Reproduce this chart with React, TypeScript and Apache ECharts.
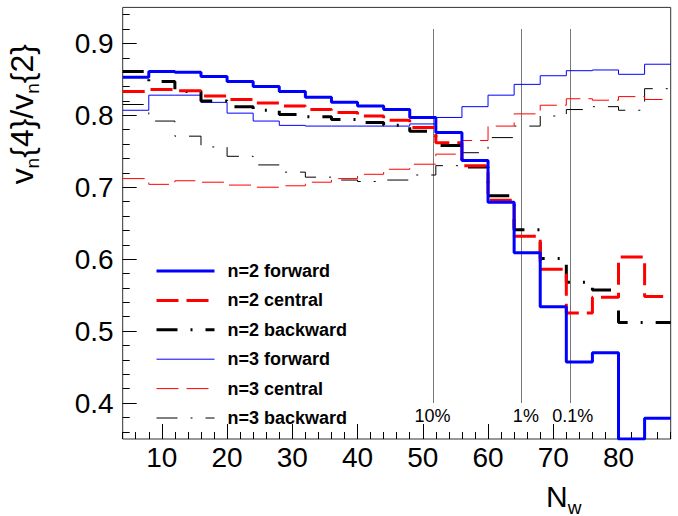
import React, { useEffect, useRef } from "react";
import * as echarts from "echarts";

// Bin low edges of N_w (bin width 4), plus the upper edge of the last bin
const binLowEdges = [4, 8, 12, 16, 20, 24, 28, 32, 36, 40, 44, 48, 52, 56, 60, 64, 68, 72, 76, 80, 84];
const binUpperEdge = 88;

const n2Forward = [0.853, 0.861, 0.86, 0.854, 0.847, 0.84, 0.833, 0.825, 0.818, 0.813, 0.808, 0.797, 0.776, 0.737, 0.679, 0.609, 0.534, 0.457, 0.47, 0.35, 0.379];
const n2Central = [0.833, 0.836, 0.834, 0.827, 0.822, 0.817, 0.813, 0.808, 0.804, 0.799, 0.793, 0.783, 0.762, 0.73, 0.682, 0.632, 0.586, 0.525, 0.547, 0.603, 0.548];
const n2Backward = [0.861, 0.847, 0.833, 0.82, 0.812, 0.807, 0.801, 0.798, 0.794, 0.79, 0.786, 0.778, 0.758, 0.728, 0.688, 0.641, 0.601, 0.568, 0.557, 0.512, 0.512];
const n3Forward = [0.807, 0.828, 0.828, 0.818, 0.803, 0.792, 0.786, 0.785, 0.785, 0.785, 0.785, 0.788, 0.797, 0.812, 0.828, 0.843, 0.855, 0.862, 0.863, 0.857, 0.871];
const n3Central = [0.712, 0.704, 0.709, 0.707, 0.703, 0.7, 0.702, 0.707, 0.712, 0.718, 0.725, 0.732, 0.746, 0.765, 0.785, 0.802, 0.814, 0.823, 0.821, 0.826, 0.822];
const n3Backward = [0.815, 0.792, 0.771, 0.756, 0.743, 0.731, 0.721, 0.714, 0.71, 0.708, 0.71, 0.717, 0.73, 0.748, 0.769, 0.785, 0.799, 0.808, 0.812, 0.807, 0.837];

const seriesNames = ["n=2 forward", "n=2 central", "n=2 backward", "n=3 forward", "n=3 central", "n=3 backward"];

// Centrality markers
const centralityLabels = ["10%", "1%", "0.1%"];
const centralityNw = [51.6, 65.1, 72.6];
const centralityLabelNw = [51.5, 65.8, 73.0];
const centralityLineRange = [0.4, 0.92];
const centralityLabelY = 0.382;

// Axis ticks
const xMin = 4;
const xMax = 88;
const yMin = 0.35;
const yMax = 0.95;
const xMajorTicks = [10, 20, 30, 40, 50, 60, 70, 80];
const yMajorTicks = [0.4, 0.5, 0.6, 0.7, 0.8, 0.9];

const FONT = "Liberation Sans, Arial, Helvetica, sans-serif";

function toSteps(vals: number[]) {
  const pts = binLowEdges.map((e, i) => [e, vals[i]]);
  pts.push([binUpperEdge, vals[vals.length - 1]]);
  return pts;
}

export default function App() {
  const ref = useRef<HTMLDivElement>(null);

  useEffect(() => {
    if (!ref.current) return;
    const chart = echarts.init(ref.current, undefined, { renderer: "svg" });

    const xMinor: number[] = [];
    for (let v = xMin; v <= xMax + 1e-9; v += 2) xMinor.push(v);
    const yMinor: number[] = [];
    for (let k = 18; k <= 47; k++) yMinor.push(Math.round(k * 2) / 100);

    const dashDot = [21, 13, 2, 13];
    const dashed = [22, 8];
    const styles = [
      { color: "#0000ff", width: 3, type: "solid" as any },
      { color: "#ff0000", width: 3, type: dashed },
      { color: "#000000", width: 3, type: dashDot },
      { color: "#0000ff", width: 1, type: "solid" as any },
      { color: "#ff0000", width: 1, type: dashed },
      { color: "#000000", width: 1, type: dashDot },
    ];
    const datasets = [n2Forward, n2Central, n2Backward, n3Forward, n3Central, n3Backward];

    const lineSeries = datasets.map((vals, i) => ({
      name: seriesNames[i],
      type: "line",
      step: "end",
      data: toSteps(vals),
      symbol: "none",
      showSymbol: false,
      clip: true,
      color: styles[i].color,
      lineStyle: { color: styles[i].color, width: styles[i].width, type: styles[i].type },
      z: 10 - i,
    }));

    const markerSeries = {
      type: "scatter",
      data: centralityLabels.map((name, i) => ({ name, value: [centralityLabelNw[i], centralityLabelY] })),
      symbolSize: 0,
      itemStyle: { color: "#000", opacity: 1 },
      silent: true,
      label: {
        show: true,
        position: "inside",
        formatter: (p: any) => p.name,
        fontSize: 18,
        fontFamily: FONT,
        color: "#000",
        opacity: 1,
      },
      markLine: {
        silent: true,
        symbol: ["none", "none"],
        label: { show: false },
        lineStyle: { color: "#777", width: 1, type: "solid", opacity: 1 },
        data: centralityNw.map((nw) => [
          { coord: [nw, centralityLineRange[0]] },
          { coord: [nw, centralityLineRange[1]] },
        ]),
      },
      z: 3,
    };

    chart.setOption({
      animation: false,
      grid: {
        left: 122.7,
        right: 7.3,
        top: 7.4,
        bottom: 77,
        show: true,
        borderColor: "#333",
        borderWidth: 1,
        backgroundColor: "transparent",
      },
      legend: {
        data: seriesNames,
        orient: "vertical",
        left: 150,
        top: 257,
        itemWidth: 58,
        itemHeight: 18,
        itemGap: 11.4,
        itemStyle: { opacity: 0, borderWidth: 0 },
        lineStyle: { width: "inherit" },
        textStyle: {
          fontSize: 18,
          fontWeight: "bold",
          fontFamily: FONT,
          color: "#000",
          padding: [0, 0, 0, 8],
          lineHeight: 18,
        },
      },
      xAxis: [
        {
          type: "value",
          min: xMin,
          max: xMax,
          position: "bottom",
          axisLine: { show: false },
          splitLine: { show: false },
          axisTick: { show: true, inside: true, length: 15, customValues: xMajorTicks, lineStyle: { color: "#000", width: 1 } },
          axisLabel: { show: true, customValues: xMajorTicks, fontSize: 28, fontFamily: FONT, color: "#000", margin: 4 },
        },
        {
          type: "value",
          min: xMin,
          max: xMax,
          position: "bottom",
          axisLine: { show: false },
          splitLine: { show: false },
          axisTick: { show: true, inside: true, length: 7, customValues: xMinor, lineStyle: { color: "#000", width: 1 } },
          axisLabel: { show: false },
        },
      ],
      yAxis: [
        {
          type: "value",
          min: yMin,
          max: yMax,
          position: "left",
          axisLine: { show: false },
          splitLine: { show: false },
          axisTick: { show: true, inside: true, length: 14, customValues: yMajorTicks, lineStyle: { color: "#000", width: 1 } },
          axisLabel: {
            show: true,
            customValues: yMajorTicks,
            fontSize: 28,
            fontFamily: FONT,
            color: "#000",
            margin: 9,
            formatter: (v: number) => v.toFixed(1),
          },
        },
        {
          type: "value",
          min: yMin,
          max: yMax,
          position: "left",
          axisLine: { show: false },
          splitLine: { show: false },
          axisTick: { show: true, inside: true, length: 7, customValues: yMinor, lineStyle: { color: "#000", width: 1 } },
          axisLabel: { show: false },
        },
      ],
      graphic: [
        {
          type: "text",
          x: 22,
          y: 44,
          rotation: Math.PI / 2,
          style: {
            text: "v{s|n}{4}/v{s|n}{2}",
            fontSize: 32,
            fontFamily: FONT,
            fill: "#000",
            align: "right",
            verticalAlign: "middle",
            rich: {
              s: { fontSize: 19, fontFamily: FONT, fill: "#000", padding: [21, 0, 0, 0], verticalAlign: "bottom" },
            },
          },
        },
        {
          type: "text",
          x: 546,
          y: 496.5,
          style: {
            text: "N{s|w}",
            fontSize: 30,
            fontFamily: FONT,
            fill: "#000",
            align: "left",
            verticalAlign: "middle",
            rich: {
              s: { fontSize: 19, fontFamily: FONT, fill: "#000", padding: [21, 0, 0, 0], verticalAlign: "bottom" },
            },
          },
        },
      ],
      series: [...lineSeries, markerSeries],
    });

    return () => chart.dispose();
  }, []);

  return (
    <div
      ref={ref}
      style={{ position: "fixed", left: 0, top: 0, width: 678, height: 516, background: "#fff" }}
    />
  );
}
